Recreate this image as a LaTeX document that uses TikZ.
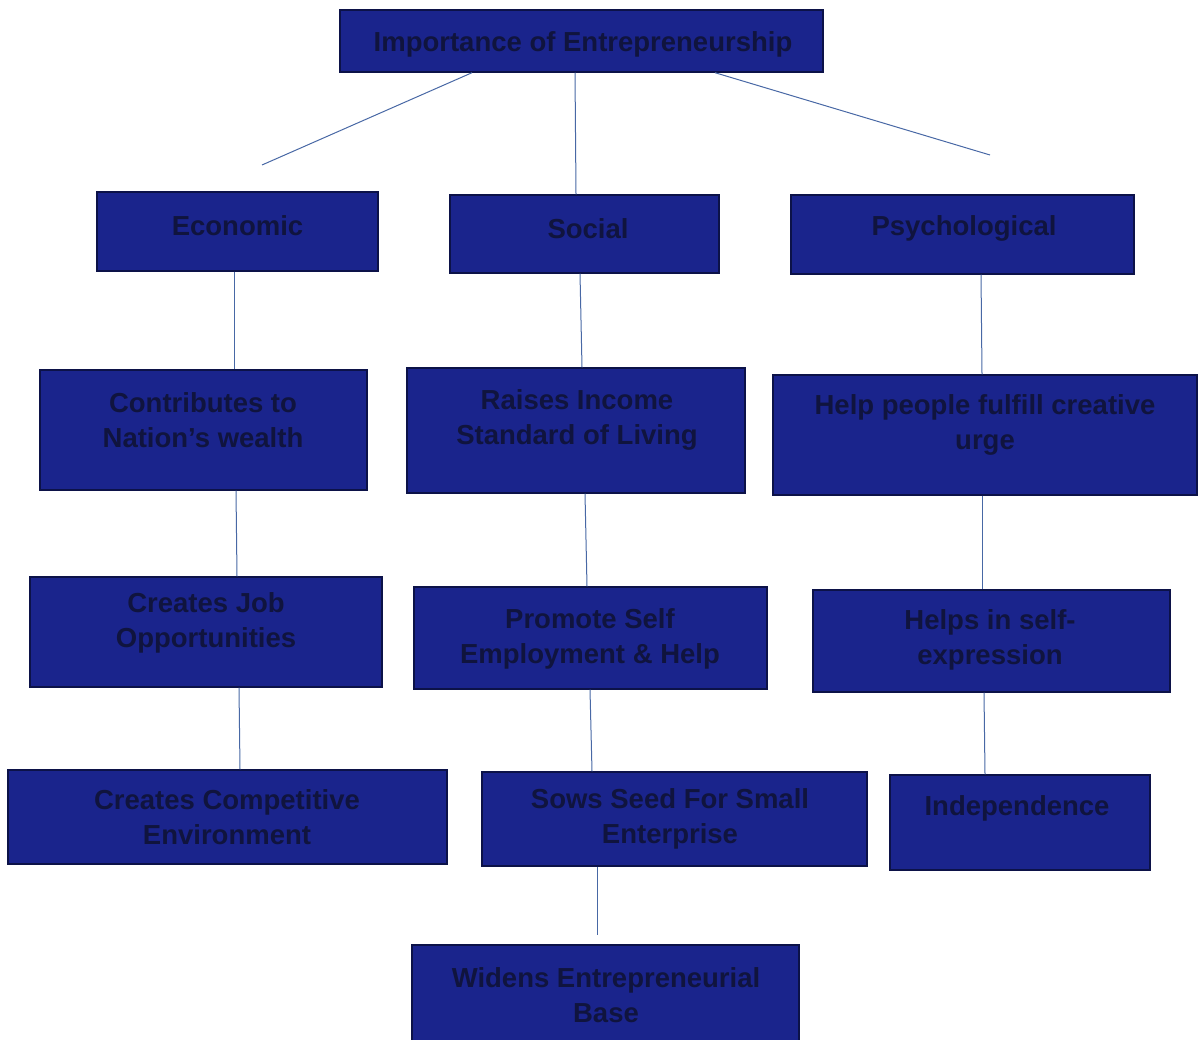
\documentclass[tikz,border=0pt]{standalone}
\usepackage{fontspec}
\setmainfont{Liberation Sans}
\definecolor{boxfill}{RGB}{26,36,140}
\definecolor{boxedge}{RGB}{12,18,72}
\definecolor{boxtext}{RGB}{16,20,62}
\definecolor{linkcol}{RGB}{72,104,165}
\begin{document}
\begin{tikzpicture}[x=1pt,y=-1pt,
  box/.style={draw=boxedge,line width=1.4pt,fill=boxfill,rectangle,inner sep=0pt},
  txt/.style={text=boxtext,font=\fontsize{27.5}{35}\selectfont\bfseries,align=center,inner sep=0pt},
  link/.style={draw=linkcol,line width=1pt}]
\useasboundingbox (0,0) rectangle (1198,1040);
% boxes
\node[box,minimum width=483pt,minimum height=62pt] (top) at (581.5,41) {};
\node[box,minimum width=281pt,minimum height=79pt] (econ) at (237.5,231.5) {};
\node[box,minimum width=269pt,minimum height=78pt] (soc) at (584.5,234) {};
\node[box,minimum width=343pt,minimum height=79pt] (psy) at (962.5,234.5) {};
\node[box,minimum width=327pt,minimum height=120pt] (contr) at (203.5,430) {};
\node[box,minimum width=338pt,minimum height=125pt] (raise) at (576,430.5) {};
\node[box,minimum width=424pt,minimum height=120pt] (helpp) at (985,435) {};
\node[box,minimum width=352pt,minimum height=110pt] (job) at (206,632) {};
\node[box,minimum width=353pt,minimum height=102pt] (prom) at (590.5,638) {};
\node[box,minimum width=357pt,minimum height=102pt] (selfx) at (991.5,641) {};
\node[box,minimum width=439pt,minimum height=94pt] (comp) at (227.5,817) {};
\node[box,minimum width=385pt,minimum height=94pt] (sows) at (674.5,819) {};
\node[box,minimum width=260pt,minimum height=95pt] (indep) at (1020,822.5) {};
\node[box,minimum width=387pt,minimum height=96pt] (widen) at (605.5,993) {};
% texts
\node[txt] (topT) at (583,44) {Importance of Entrepreneurship};
\node[txt] (econT) at (237.5,226) {Economic};
\node[txt] (socT) at (588,229) {Social};
\node[txt] (psyT) at (964,228) {Psychological};
\node[txt] (contrT) at (203,420) {Contributes to\\Nation's wealth};
\node[txt] (raiseT) at (577,420) {Raises Income\\Standard of Living};
\node[txt] (helppT) at (985,425) {Help people fulfill creative\\urge};
\node[txt] (jobT) at (206,623) {Creates Job\\Opportunities};
\node[txt] (promT) at (590,639) {Promote Self\\Employment \& Help};
\node[txt] (selfxT) at (990,640) {Helps in self-\\expression};
\node[txt] (compT) at (227,817) {Creates Competitive\\Environment};
\node[txt] (sowsT) at (670,819) {Sows Seed For Small\\Enterprise};
\node[txt] (indepT) at (1017,808) {Independence};
\node[txt] (widenT) at (606,995) {Widens Entrepreneurial\\Base};
% free ends
\coordinate (lend) at (262,165);
\coordinate (rend) at (990,155);
\coordinate (wend) at (597,935);
% connectors
\draw[link] (472,0 |- top.south) -- (lend);
\draw[link] (575,0 |- top.south) -- (576,0 |- soc.north);
\draw[link] (715,0 |- top.south) -- (rend);
\draw[link] (234,0 |- econ.south) -- (234,0 |- contr.north);
\draw[link] (236,0 |- contr.south) -- (237,0 |- job.north);
\draw[link] (239,0 |- job.south) -- (240,0 |- comp.north);
\draw[link] (580,0 |- soc.south) -- (582,0 |- raise.north);
\draw[link] (585,0 |- raise.south) -- (587,0 |- prom.north);
\draw[link] (590,0 |- prom.south) -- (592,0 |- sows.north);
\draw[link] (597,0 |- sows.south) -- (wend);
\draw[link] (981,0 |- psy.south) -- (982,0 |- helpp.north);
\draw[link] (982,0 |- helpp.south) -- (982,0 |- selfx.north);
\draw[link] (984,0 |- selfx.south) -- (985,0 |- indep.north);
\end{tikzpicture}
\end{document}
